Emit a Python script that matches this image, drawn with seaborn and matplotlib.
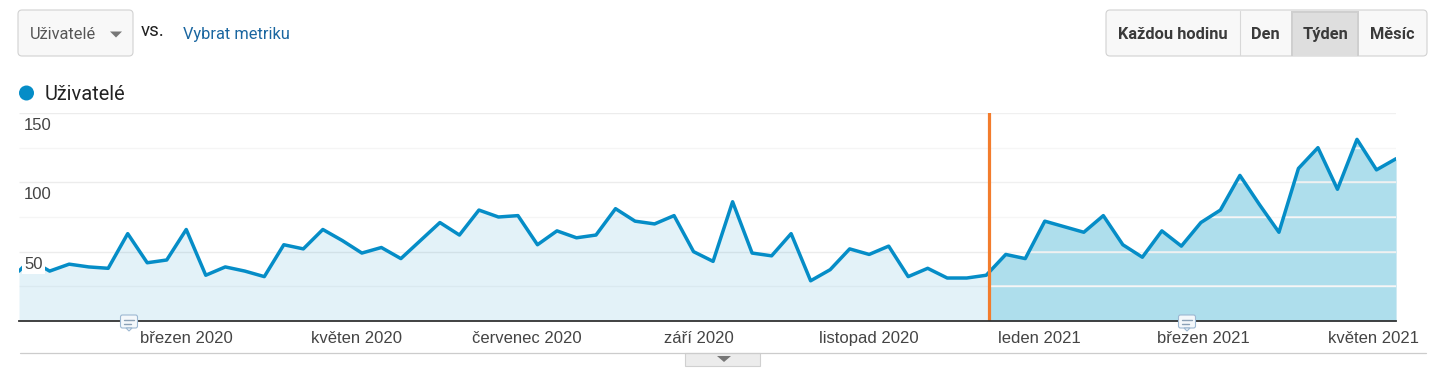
import numpy as np
import pandas as pd
import matplotlib
matplotlib.use('Agg')
import matplotlib.pyplot as plt
import matplotlib.dates as mdates
from matplotlib.patches import Rectangle, FancyBboxPatch, Polygon, Circle
import seaborn as sns

# ==========================================
# Data
# ==========================================
first_day = '2020-01-01'
week_starts = pd.date_range('2020-01-05', '2021-05-10', freq='7D')
users = [36, 44, 36, 41, 39, 38, 63, 42, 44, 66, 33, 39, 36, 32, 55, 52, 66, 58,
         49, 53, 45, 58, 71, 62, 80, 75, 76, 55, 65, 60, 62, 81, 72, 70, 76, 50,
         43, 86, 49, 47, 63, 29, 37, 52, 48, 54, 32, 38, 31, 31, 33, 48, 45, 72,
         68, 64, 76, 55, 46, 65, 54, 71, 80, 105, 84, 64, 110, 125, 95, 131, 109, 117]
split_day = '2020-12-14'
month_ticks = ['2020-03-01', '2020-05-01', '2020-07-01', '2020-09-01', '2020-11-01',
               '2021-01-01', '2021-03-01', '2021-05-01']
month_labels = ['březen 2020', 'květen 2020', 'červenec 2020', 'září 2020', 'listopad 2020',
                'leden 2021', 'březen 2021', 'květen 2021']
y_major = [50, 100, 150]
y_minor = [25, 75, 125]
buttons = ['Každou hodinu', 'Den', 'Týden', 'Měsíc']

df = pd.DataFrame({'date': [pd.Timestamp(first_day)] + list(week_starts), 'users': users})

BLUE = '#058dc7'
W, H = 1446, 368
UI_FONT = ['Roboto', 'DejaVu Sans']
CHART_FONT = ['Liberation Sans', 'DejaVu Sans']

sns.set_style('white')
plt.rcParams['font.family'] = CHART_FONT

fig = plt.figure(figsize=(W / 100, H / 100), dpi=100, facecolor='white')

# ==========================================
# Main chart
# ==========================================
ax = fig.add_axes([19 / W, (H - 321) / H, 1377 / W, 208 / H])
x0, x1 = df['date'].iloc[0], df['date'].iloc[-1]
ax.set_xlim(x0, x1)
ax.set_ylim(0, 150)
ax.set_facecolor('none')

ax.hlines(y_major, x0, x1, color='#ececec', lw=1.0, zorder=1)
ax.hlines(y_minor, x0, x1, color='#f5f5f5', lw=1.0, zorder=1)

split = pd.Timestamp(split_day)
light = ax.fill_between(df['date'], df['users'], 0, color=BLUE, alpha=0.11, lw=0, zorder=2)
dark = ax.fill_between(df['date'], df['users'], 0, color='#aedeec', lw=0, zorder=2.1)
dark.set_clip_path(Rectangle((mdates.date2num(split), 0), 1000, 150, transform=ax.transData))

# grid shows through the highlighted part
ax.hlines(y_major + y_minor, split, x1, color='#e9f1f4', lw=1.2, zorder=2.2,
          clip_on=True)
mask_top = ax.fill_between(df['date'], df['users'], 150, color='white', lw=0, zorder=2.25)
mask_top.set_clip_path(Rectangle((mdates.date2num(split), 0), 1000, 150, transform=ax.transData))
ax.hlines(y_major, split, x1, color='#f0f0f0', lw=1.0, zorder=2.3)
ax.hlines(y_minor, split, x1, color='#f6f6f6', lw=1.0, zorder=2.3)

sns.lineplot(data=df, x='date', y='users', ax=ax, color=BLUE, lw=2.5, zorder=3,
             legend=False, errorbar=None)
ax.axvline(split, color='#f37c2c', lw=2.3, zorder=4, ymax=1.0)

ax.set_xlabel('')
ax.set_ylabel('')
ax.set_yticks([])
ax.set_xticks(pd.to_datetime(month_ticks))
ax.set_xticklabels(month_labels, fontsize=12, color='#444444')
ax.tick_params(axis='x', length=0, pad=7)
for side in ['top', 'left', 'right']:
    ax.spines[side].set_visible(False)
ax.spines['bottom'].set_color('#333333')
ax.spines['bottom'].set_linewidth(1.3)
ax.spines['bottom'].set_zorder(5)

for v in y_major:
    ax.annotate(str(v), (0, v), xycoords=ax.get_yaxis_transform(), xytext=(5, -5),
                textcoords='offset pixels', va='top', ha='left', fontsize=12, color='#444444',
                zorder=6, bbox=dict(facecolor='white', edgecolor='none', pad=1.5))

# ==========================================
# Page chrome around the chart (pixel coordinates)
# ==========================================
ui = fig.add_axes([0, 0, 1, 1], zorder=10)
ui.set_xlim(0, W)
ui.set_ylim(H, 0)
ui.axis('off')
ui.patch.set_alpha(0)


def rounded(x, y, w, h, fc, ec='#d2d2d2', r=4):
    ui.add_patch(FancyBboxPatch((x + r, y + r), w - 2 * r, h - 2 * r,
                                boxstyle=f'round,pad={r},rounding_size={r}',
                                fc=fc, ec=ec, lw=0.8))


# metric dropdown
rounded(18, 10, 115, 46, '#f8f8f8')
ui.text(30, 34.5, 'Uživatelé', family=UI_FONT, fontsize=11.8, color='#555555', va='center')
ui.add_patch(Polygon([[110, 31.5], [122, 31.5], [116, 37.5]], fc='#777777', ec='none'))
ui.text(141, 31, 'vs.', family=UI_FONT, fontsize=13.5, color='#222222', va='center')
ui.text(183, 34.5, 'Vybrat metriku', family=UI_FONT, fontsize=11.8, color='#1a66a0', va='center')

# period buttons
rounded(1106, 10, 321, 46, '#f8f8f8')
ui.add_patch(Rectangle((1291, 11), 68, 44.5, fc='#cfcfcf', ec='none'))
ui.add_patch(Rectangle((1293, 13), 64, 42.5, fc='#dedede', ec='none'))
ui.plot([1239.5, 1239.5], [11, 55], color='#d8d8d8', lw=0.8)
btn_x = [1173, 1265.5, 1325.5, 1392.5]
for label, bx in zip(buttons, btn_x):
    ui.text(bx, 34.5, label, family=UI_FONT, fontsize=11.8, fontweight='bold', color='#3a3a3a',
            va='center', ha='center')

# legend row
ui.add_patch(Circle((26.5, 93), 7.5, fc=BLUE, ec='none'))
ui.text(45, 94.5, 'Uživatelé', family=UI_FONT, fontsize=14.4, color='#222222', va='center')

# bottom rule and expander tab
ui.plot([20, 1426], [352.5, 352.5], color='#cccccc', lw=0.9)
ui.add_patch(Rectangle((685, 353), 75, 13, fc='#ececec', ec='#d0d0d0', lw=0.8))
ui.add_patch(Polygon([[717, 356], [731, 356], [724, 362]], fc='#777777', ec='none'))

# annotation bubbles on the axis
for cx in [129, 1187]:
    rounded(cx - 8.5, 315, 17, 13, '#f4f8fb', ec='#9db8d2', r=2)
    ui.add_patch(Polygon([[cx - 3, 328], [cx + 3, 328], [cx, 331]], fc='#f4f8fb', ec='#9db8d2', lw=0.8))
    ui.plot([cx - 5, cx + 5], [320, 320], color='#8aa0b5', lw=1)
    ui.plot([cx - 5, cx + 2], [323.5, 323.5], color='#8aa0b5', lw=1)

plt.savefig('out.png', dpi=100)
plt.close()
